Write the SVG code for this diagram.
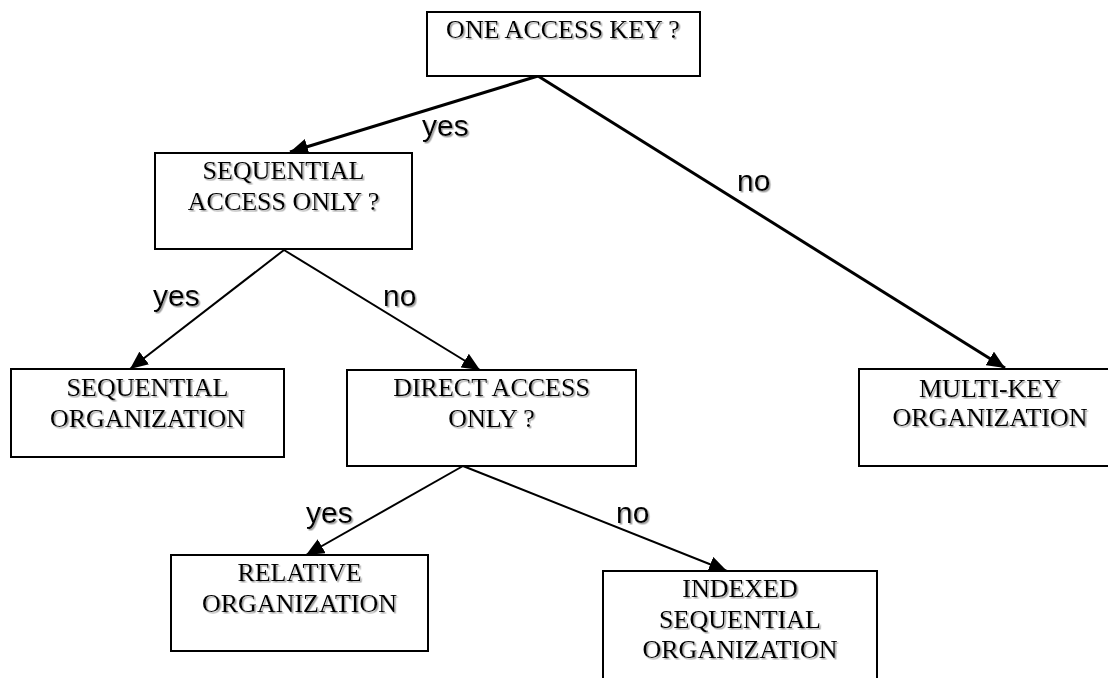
<svg xmlns="http://www.w3.org/2000/svg" width="1108" height="678" viewBox="0 0 1108 678">
<style>
.box{fill:#fff;stroke:#000;stroke-width:2}
.t{font-family:"Liberation Serif","Times New Roman",serif;font-size:26px;fill:#000;text-anchor:middle;filter:url(#sh)}
.lbl{font-family:"Liberation Sans",Arial,sans-serif;font-size:30px;fill:#000;filter:url(#sh)}
.c{fill:none;stroke:#000;stroke-width:2;marker-end:url(#ah)}
.thick{stroke-width:3}
</style>
<defs>
<filter id="sh" x="-10%" y="-20%" width="130%" height="150%">
<feDropShadow dx="1.5" dy="1.5" stdDeviation="0.6" flood-color="#888" flood-opacity="0.8"/>
</filter>
<marker id="ah" viewBox="0 0 18 16" refX="18" refY="8" markerWidth="18" markerHeight="16" markerUnits="userSpaceOnUse" orient="auto">
<path d="M0,0 L18,8 L0,16 Z" fill="#000"/>
</marker>
</defs>
<rect width="1108" height="678" fill="#fff"/>
<g id="connectors">
<line class="c thick" x1="538" y1="76" x2="290" y2="152"/>
<line class="c thick" x1="538" y1="76" x2="1005" y2="368"/>
<line class="c" x1="284" y1="250" x2="130" y2="369"/>
<line class="c" x1="284" y1="250" x2="480" y2="370"/>
<line class="c" x1="463" y1="466" x2="306" y2="555"/>
<line class="c" x1="463" y1="466" x2="727" y2="571"/>
<text class="lbl" x="422" y="136">yes</text>
<text class="lbl" x="737" y="191">no</text>
<text class="lbl" x="153" y="306">yes</text>
<text class="lbl" x="383" y="306">no</text>
<text class="lbl" x="306" y="523">yes</text>
<text class="lbl" x="616" y="523">no</text>
</g>
<g id="n-onekey">
<rect class="box" x="427" y="12" width="273" height="64"/>
<text class="t" x="563" y="38">ONE ACCESS KEY ?</text>
</g>
<g id="n-seqaccess">
<rect class="box" x="155" y="153" width="257" height="96"/>
<text class="t" x="283.5" y="179">SEQUENTIAL</text>
<text class="t" x="283.5" y="210">ACCESS ONLY ?</text>
</g>
<g id="n-seqorg">
<rect class="box" x="11" y="369" width="273" height="88"/>
<text class="t" x="147.5" y="396">SEQUENTIAL</text>
<text class="t" x="147.5" y="427">ORGANIZATION</text>
</g>
<g id="n-direct">
<rect class="box" x="347" y="370" width="289" height="96"/>
<text class="t" x="491.5" y="396">DIRECT ACCESS</text>
<text class="t" x="491.5" y="427">ONLY ?</text>
</g>
<g id="n-multikey">
<rect class="box" x="859" y="369" width="262" height="97"/>
<text class="t" x="990" y="397">MULTI-KEY</text>
<text class="t" x="990" y="426">ORGANIZATION</text>
</g>
<g id="n-relative">
<rect class="box" x="171" y="555" width="257" height="96"/>
<text class="t" x="299.5" y="581">RELATIVE</text>
<text class="t" x="299.5" y="612">ORGANIZATION</text>
</g>
<g id="n-indexed">
<rect class="box" x="603" y="571" width="274" height="120"/>
<text class="t" x="740" y="597">INDEXED</text>
<text class="t" x="740" y="628">SEQUENTIAL</text>
<text class="t" x="740" y="658">ORGANIZATION</text>
</g>
</svg>
